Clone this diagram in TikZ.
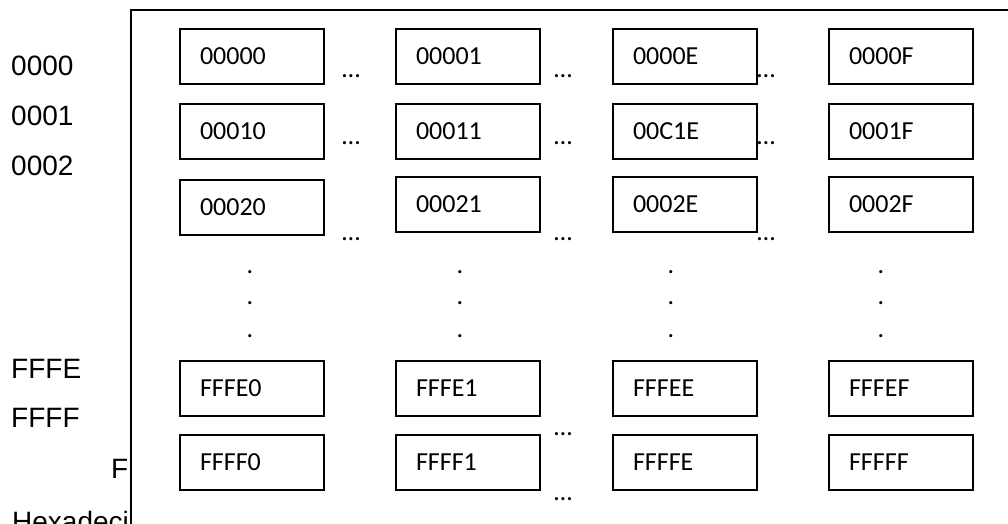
\documentclass[tikz,border=0pt]{standalone}
\usepackage{fontspec}
\newfontfamily\cellfont{Carlito}
\newfontfamily\labelfont{Liberation Sans}

\begin{document}
\begin{tikzpicture}[x=1pt,y=-1pt,
  cell/.style={draw, line width=2pt, anchor=north west, minimum height=55pt,
    text width=104pt, inner xsep=20pt, inner ysep=0pt, align=left,
    font=\cellfont\fontsize{26}{30}\selectfont},
  addr/.style={anchor=base west, inner sep=0pt, font=\labelfont\fontsize{28}{32}\selectfont},
  gap/.style={anchor=base west, inner sep=0pt, font=\cellfont\fontsize{26}{30}\selectfont},
  vdot/.style={anchor=base, inner sep=0pt, font=\cellfont\fontsize{26}{30}\selectfont},
  frameline/.style={line width=2pt}]

\useasboundingbox (0,0) rectangle (1008,523);
\clip (0,0) rectangle (1008,523);

% row addresses on the left
\node[addr] (r0)  at (11,75)  {0000};
\node[addr] (r1)  at (11,125) {0001};
\node[addr] (r2)  at (11,175) {0002};
\node[addr] (rE)  at (11,378) {FFFE};
\node[addr] (rF)  at (11,427) {FFFF};
\node[addr] (rF2) at (111,478) {F};
\node[addr] (hex) at (12,531) {Hexadeci};

% the memory panel
\fill[white] (131,9.5) rectangle (1020,540);
\draw[frameline] (131,540) -- (131,9.5) -- (1020,9.5);

% cells
\node[cell] (c00) at (179,28)  {00000};
\node[cell] (c01) at (395,28)  {00001};
\node[cell] (c0E) at (612,28)  {0000E};
\node[cell] (c0F) at (828,28)  {0000F};

\node[cell] (c10) at (179,103) {00010};
\node[cell] (c11) at (395,103) {00011};
\node[cell] (c1E) at (612,103) {00C1E};
\node[cell] (c1F) at (828,103) {0001F};

\node[cell] (c20) at (179,179) {00020};
\node[cell] (c21) at (395,176) {00021};
\node[cell] (c2E) at (612,176) {0002E};
\node[cell] (c2F) at (828,176) {0002F};

\node[cell] (cE0) at (179,360) {FFFE0};
\node[cell] (cE1) at (395,360) {FFFE1};
\node[cell] (cEE) at (612,360) {FFFEE};
\node[cell] (cEF) at (828,360) {FFFEF};

\node[cell] (cF0) at (179,434) {FFFF0};
\node[cell] (cF1) at (395,434) {FFFF1};
\node[cell] (cFE) at (612,434) {FFFFE};
\node[cell] (cFF) at (828,434) {FFFFF};

% horizontal ellipses between columns
\node[gap] (g0a) at (342,77)  {…};
\node[gap] (g0b) at (554,77)  {…};
\node[gap] (g0c) at (757,77)  {…};
\node[gap] (g1a) at (342,144) {…};
\node[gap] (g1b) at (554,144) {…};
\node[gap] (g1c) at (757,144) {…};
\node[gap] (g2a) at (342,240) {…};
\node[gap] (g2b) at (554,240) {…};
\node[gap] (g2c) at (757,240) {…};
\node[gap] (gEb) at (554,435) {…};
\node[gap] (gFb) at (554,500) {…};

% vertical dots between the top and bottom rows
\foreach \x [count=\i] in {250,460,671,881}{
  \node[vdot] (va\i) at (\x,273.5) {.};
  \node[vdot] (vb\i) at (\x,304.5) {.};
  \node[vdot] (vc\i) at (\x,337.5) {.};
}
\end{tikzpicture}
\end{document}
